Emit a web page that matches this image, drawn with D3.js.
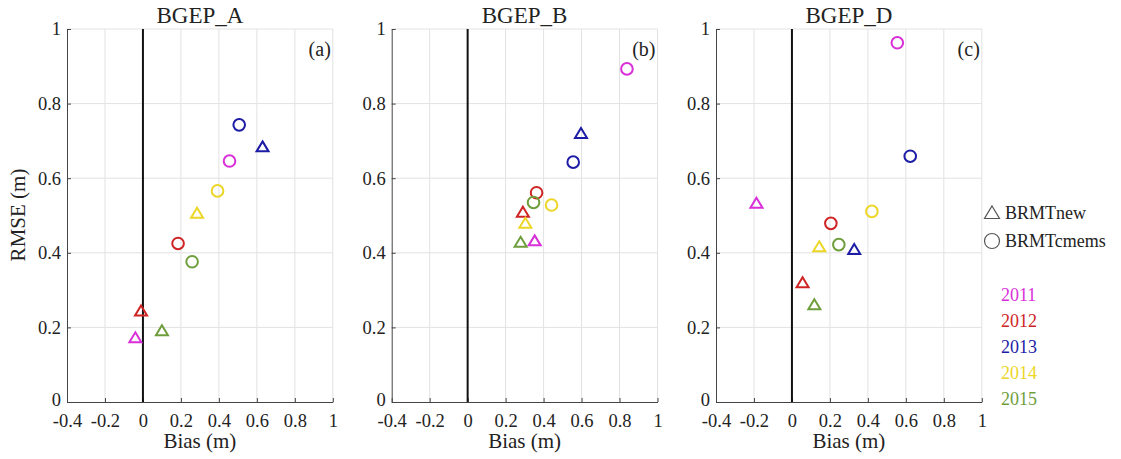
<!DOCTYPE html>
<html><head><meta charset="utf-8">
<script src="https://cdn.jsdelivr.net/npm/d3@7"></script>
<style>body{margin:0;background:#fff}svg{display:block}svg text{font-family:"Liberation Serif","Times New Roman",serif !important;fill:#222}</style>
</head><body><svg id="c" width="1121" height="459"></svg>
<script>
const years = ["2011","2012","2013","2014","2015"];
const yearColors = ["#d92fd9","#cf2424","#1c1ca6","#ecd628","#6e9e3c"];
const panelTitles = ["BGEP_A","BGEP_B","BGEP_D"];
const panelTags = ["(a)","(b)","(c)"];
const xTicks = [-0.4,-0.2,0,0.2,0.4,0.6,0.8,1];
const xTickLabels = ["-0.4","-0.2","0","0.2","0.4","0.6","0.8","1"];
const yTicks = [0,0.2,0.4,0.6,0.8,1];
const yTickLabels = ["0","0.2","0.4","0.6","0.8","1"];
// BRMTnew (triangles), per year 2011..2015
const newBiasA = [-0.04,-0.01,0.63,0.285,0.10];
const newRmseA = [0.172,0.244,0.684,0.506,0.191];
const newBiasB = [0.353,0.291,0.597,0.304,0.279];
const newRmseB = [0.432,0.509,0.72,0.479,0.428];
const newBiasD = [-0.187,0.056,0.328,0.144,0.118];
const newRmseD = [0.533,0.32,0.409,0.416,0.261];
// BRMTcmems (circles)
const cmBiasA = [0.456,0.185,0.507,0.393,0.259];
const cmRmseA = [0.646,0.425,0.743,0.566,0.376];
const cmBiasB = [0.839,0.363,0.556,0.442,0.347];
const cmRmseB = [0.893,0.561,0.643,0.528,0.535];
const cmBiasD = [0.555,0.205,0.623,0.421,0.247];
const cmRmseD = [0.963,0.479,0.659,0.511,0.422];
const legendLabels = ["BRMTnew","BRMTcmems"];

const panels = [
  {nb:newBiasA,nr:newRmseA,cb:cmBiasA,cr:cmRmseA,left:67},
  {nb:newBiasB,nr:newRmseB,cb:cmBiasB,cr:cmRmseB,left:391.7},
  {nb:newBiasD,nr:newRmseD,cb:cmBiasD,cr:cmRmseD,left:716}
];
const W = 265.8, plotTop = 29, plotBottom = 402;
const svg = d3.select("#c");
const tri = "M0,-5.5L6,4.5L-6,4.5Z";

panels.forEach((p,i)=>{
  const x = d3.scaleLinear().domain([-0.4,1]).range([p.left,p.left+W]);
  const y = d3.scaleLinear().domain([0,1]).range([plotBottom,plotTop]);
  const g = svg.append("g");
  // grid
  g.selectAll(".gx").data(xTicks.slice(1)).join("line")
    .attr("x1",d=>x(d)).attr("x2",d=>x(d)).attr("y1",plotTop).attr("y2",plotBottom)
    .attr("stroke","#e2e2e2").attr("stroke-width",1);
  g.selectAll(".gy").data(yTicks.slice(1)).join("line")
    .attr("x1",p.left).attr("x2",p.left+W).attr("y1",d=>y(d)).attr("y2",d=>y(d))
    .attr("stroke","#e2e2e2").attr("stroke-width",1);
  // axes
  const ax = g.append("g").attr("transform",`translate(0,${plotBottom})`)
    .call(d3.axisBottom(x).tickValues(xTicks).tickFormat((d,k)=>xTickLabels[k]).tickSizeInner(-4).tickSizeOuter(0).tickPadding(12));
  const ay = g.append("g").attr("transform",`translate(${p.left},0)`)
    .call(d3.axisLeft(y).tickValues(yTicks).tickFormat((d,k)=>yTickLabels[k]).tickSizeInner(-4).tickSizeOuter(0).tickPadding(6));
  [ax,ay].forEach(a=>{
    a.attr("font-family",null);
    a.select(".domain").attr("stroke","#444");
    a.selectAll(".tick line").attr("stroke","#444");
    a.selectAll("text").attr("font-size",18.5).attr("fill","#222").style("font-family",'"Liberation Serif",serif');
  });
  ax.selectAll("text").attr("dy","0.71em");
  ay.selectAll(".tick text").filter(d=>d===0).attr("dy","0.2em");
  // zero line
  g.append("line").attr("x1",x(0)).attr("x2",x(0)).attr("y1",plotTop).attr("y2",plotBottom)
    .attr("stroke","#111").attr("stroke-width",2);
  // title & tag
  g.append("text").attr("x",p.left+W/2).attr("y",23).attr("text-anchor","middle")
    .attr("font-size",23).text(panelTitles[i]);
  g.append("text").attr("x",p.left+W-2).attr("y",56).attr("text-anchor","end")
    .attr("font-size",20).text(panelTags[i]);
  g.append("text").attr("x",p.left+W/2).attr("y",448).attr("text-anchor","middle")
    .attr("font-size",21).text("Bias (m)");
  // markers
  years.forEach((yr,k)=>{
    g.append("path").attr("d",tri)
      .attr("transform",`translate(${x(p.nb[k])},${y(p.nr[k])})`)
      .attr("fill","none").attr("stroke",yearColors[k]).attr("stroke-width",2);
    g.append("circle").attr("cx",x(p.cb[k])).attr("cy",y(p.cr[k])).attr("r",5.8)
      .attr("fill","none").attr("stroke",yearColors[k]).attr("stroke-width",2);
  });
});
svg.append("text").attr("transform","translate(25,215) rotate(-90)").attr("text-anchor","middle")
  .attr("font-size",21).text("RMSE (m)");
// legend
const lg = svg.append("g");
lg.append("path").attr("d","M0,-7L7.5,5.5L-7.5,5.5Z").attr("transform","translate(992,213)")
  .attr("fill","none").attr("stroke","#555").attr("stroke-width",1.2);
lg.append("circle").attr("cx",992).attr("cy",241).attr("r",7.5)
  .attr("fill","none").attr("stroke","#555").attr("stroke-width",1.2);
legendLabels.forEach((t,k)=>{
  lg.append("text").attr("x",1005).attr("y",213+k*28).attr("dy","0.35em")
    .attr("font-size",18).attr("fill","#333").text(t);
});
years.forEach((yr,k)=>{
  lg.append("text").attr("x",1001).attr("y",295+k*26).attr("dy","0.35em")
    .attr("font-size",18).attr("fill",yearColors[k]).style("fill",yearColors[k]).text(yr);
});
</script></body></html>
